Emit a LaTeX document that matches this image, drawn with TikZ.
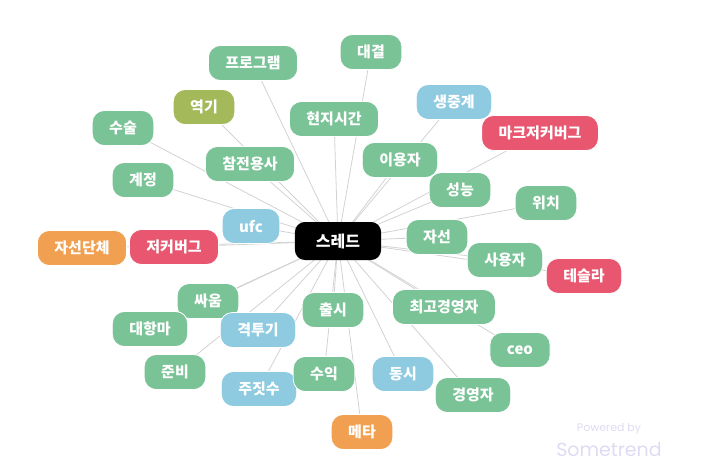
\documentclass[tikz,border=0pt]{standalone}
\usepackage{fontspec}
\setmainfont{Noto Sans CJK KR}[BoldFont={Noto Sans CJK KR Black}]
\newfontfamily\brandfont{Poppins}
\usetikzlibrary{positioning}
\usetikzlibrary{backgrounds}

\definecolor{kwgreen}{RGB}{122,195,151}
\definecolor{kwblue}{RGB}{142,203,224}
\definecolor{kwred}{RGB}{232,86,112}
\definecolor{kworange}{RGB}{240,160,80}
\definecolor{kwolive}{RGB}{163,185,90}
\definecolor{kwedge}{RGB}{210,210,210}
\definecolor{kwmark}{RGB}{222,219,243}

\tikzset{
  keyword/.style={rounded corners=12pt, draw=white, line width=0.8pt,
    minimum height=35pt, inner xsep=17pt, inner ysep=0pt,
    text=white, font=\fontsize{15}{15}\selectfont\bfseries},
  kgreen/.style={keyword, fill=kwgreen},
  kblue/.style={keyword, fill=kwblue},
  kred/.style={keyword, fill=kwred},
  korange/.style={keyword, fill=kworange},
  kolive/.style={keyword, fill=kwolive},
  link/.style={draw=kwedge, line width=0.8pt}
}

\begin{document}
\begin{tikzpicture}[x=1pt, y=-1pt]
\useasboundingbox (0,0) rectangle (712,475);

% Center word
\node[rounded corners=10pt, fill=black, text=white,
    minimum height=38pt, inner xsep=21pt, inner ysep=0pt,
    font=\fontsize{16}{16}\selectfont\bfseries
] (thread) at (338,241) {스레드};

% Upper keywords
\node[kgreen] (prog) at (253,63) {프로그램};
\node[kgreen] (daegyeol) at (371,52) {대결};
\node[kolive] (yeokgi) at (204,107) {역기};
\node[kgreen] (susul) at (123,128) {수술};
\node[kgreen] (hyeonji) at (334,119) {현지시간};
\node[kblue] (saengjung) at (454,102) {생중계};
\node[kred] (markzuck) at (540,133) {마크저커버그};
\node[kgreen] (chamjeon) at (250,164) {참전용사};
\node[kgreen] (gyejeong) at (143,180) {계정};
\node[kgreen] (iyongja) at (400,160) {이용자};
\node[kgreen] (seongneung) at (460,190) {성능};
\node[kgreen] (wichi) at (546,203) {위치};

% Middle row
\node[kblue] (ufc) at (251,226) {ufc};
\node[korange] (charity) at (82,248) {자선단체};
\node[kred] (zuck) at (174,247) {저커버그};
\node[kgreen] (jaseon) at (437,237) {자선};
\node[kgreen] (sayongja) at (505,260) {사용자};
\node[kred] (tesla) at (584,276) {테슬라};

% Lower keywords
\node[kgreen] (ssaum) at (208,301) {싸움};
\node[kgreen] (daehangma) at (150,329) {대항마};
\node[kblue] (gyeoktugi) at (258,330) {격투기};
\node[kgreen] (chulsi) at (333,310) {출시};
\node[kgreen] (ceo5) at (444,307) {최고경영자};
\node[kgreen] (ceo) at (520,350) {ceo};
\node[kgreen] (junbi) at (175,372) {준비};
\node[kblue] (jujitsu) at (259,389) {주짓수};
\node[kgreen] (suik) at (324,374) {수익};
\node[kblue] (dongsi) at (403,374) {동시};
\node[kgreen] (manager) at (473,395) {경영자};
\node[korange] (meta) at (362,432) {메타};

% Links to the center
\begin{scope}[on background layer]
\foreach \kw in {prog,daegyeol,yeokgi,susul,hyeonji,saengjung,markzuck,
    chamjeon,gyejeong,iyongja,seongneung,wichi,ufc,charity,zuck,jaseon,
    sayongja,tesla,ssaum,daehangma,gyeoktugi,chulsi,ceo5,ceo,junbi,
    jujitsu,suik,dongsi,manager,meta}
  \draw[link] (thread.center) -- (\kw.center);
\end{scope}

% Watermark
\node[text=kwmark, font=\brandfont\fontsize{11}{11}\selectfont] (powered) at (609,429) {Powered by};
\node[text=kwmark, font=\brandfont\fontsize{19}{19}\selectfont, below=1pt of powered] (brand) {Sometrend};

\end{tikzpicture}
\end{document}
